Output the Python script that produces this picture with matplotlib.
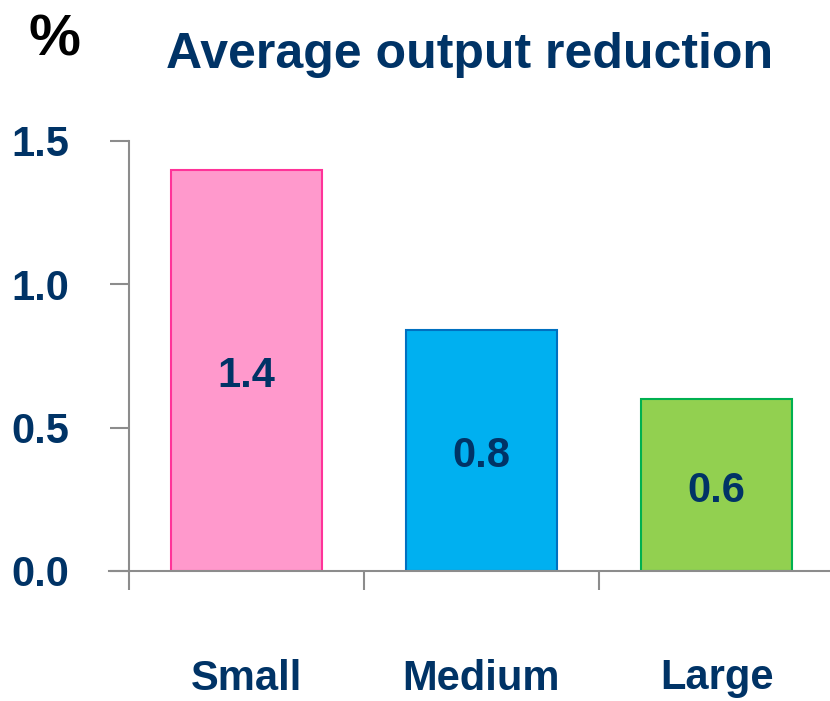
import matplotlib
matplotlib.use("Agg")
import matplotlib.pyplot as plt
from matplotlib.ticker import FixedLocator, NullFormatter

# ----------------------------- data -----------------------------
categories = ["Small", "Medium", "Large"]
values = [1.40, 0.84, 0.60]
fill_colors = ["#FF99CC", "#00B0F0", "#92D050"]
edge_colors = ["#FF3399", "#0070C0", "#00B050"]
y_ticks = [0.0, 0.5, 1.0, 1.5]

NAVY = "#003366"
AXIS_GRAY = "#8C8C8C"
LABEL_SIZE = 30

plt.rcParams["font.family"] = ["Liberation Sans", "DejaVu Sans"]
plt.rcParams["font.weight"] = "bold"

fig = plt.figure(figsize=(8.30, 7.01), dpi=100)
ax = fig.add_axes([109 / 830, 130 / 701, 721 / 830, 430 / 701])

x = list(range(len(categories)))
ax.bar(x, values, width=0.642, color=fill_colors, edgecolor=edge_colors, linewidth=1.5, zorder=2)

# value labels sit at mid-height of each bar
for xi, v in zip(x, values):
    ax.annotate(f"{v:.1f}", (xi, v / 2), xytext=(0, -4), textcoords="offset points",
                ha="center", va="center", fontsize=LABEL_SIZE, fontweight="bold",
                color=NAVY, zorder=3)

ax.set_ylim(0, 1.5)
ax.set_xlim(-0.583, 2.482)

for side in ("top", "right"):
    ax.spines[side].set_visible(False)
ax.spines["left"].set_position(("data", -0.5))
ax.spines["left"].set_bounds(0, 1.5)
for side in ("left", "bottom"):
    ax.spines[side].set_color(AXIS_GRAY)
    ax.spines[side].set_linewidth(1.5)

ax.set_yticks(y_ticks)
ax.set_yticklabels([f"{t:.1f}" for t in y_ticks])
ax.tick_params(axis="y", length=14, width=1.5, color=AXIS_GRAY, pad=29,
               labelsize=LABEL_SIZE, labelcolor=NAVY)

# category separators as major ticks, names as minor ticks at bar centres
ax.xaxis.set_major_locator(FixedLocator([-0.5, 0.5, 1.5]))
ax.xaxis.set_major_formatter(NullFormatter())
ax.xaxis.set_minor_locator(FixedLocator(x))
ax.set_xticklabels(categories, minor=True)
ax.tick_params(axis="x", which="major", length=14, width=1.5, color=AXIS_GRAY)
ax.tick_params(axis="x", which="minor", length=0, pad=63, labelsize=LABEL_SIZE, labelcolor=NAVY)

fig.text(470 / 830, 1 - 68 / 701, "Average output reduction", ha="center", va="baseline",
         fontsize=36, fontweight="bold", color=NAVY)
fig.text(54 / 830, 1 - 55 / 701, "%", ha="center", va="baseline",
         fontsize=42, fontweight="bold", color="black")

fig.savefig("out.png", dpi=100)
